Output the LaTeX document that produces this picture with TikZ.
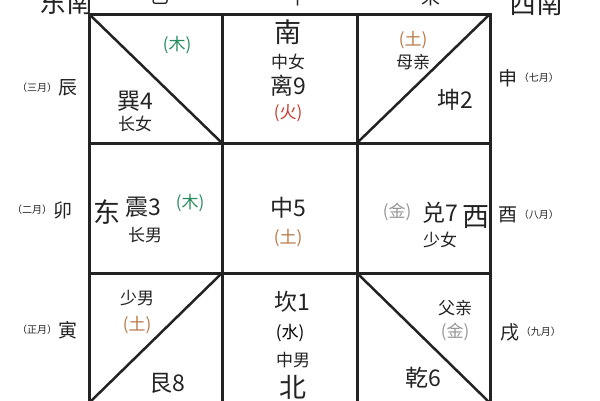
\documentclass[tikz,border=0pt]{standalone}
\usepackage{fontspec}
\newfontfamily\cjk{Noto Sans CJK SC}
\usetikzlibrary{positioning}

\definecolor{ink}{RGB}{35,35,35}
\definecolor{mu}{RGB}{40,140,95}
\definecolor{huo}{RGB}{200,60,50}
\definecolor{tu}{RGB}{185,120,70}
\definecolor{jin}{RGB}{150,150,150}

\tikzset{
	fang/.style={font=\cjk\fontsize{27}{27}\selectfont, text=ink, inner sep=0pt},
	gua/.style={font=\cjk\fontsize{23}{23}\selectfont, text=ink, inner sep=0pt},
	ren/.style={font=\cjk\fontsize{17}{17}\selectfont, text=ink, inner sep=0pt},
	xing/.style={font=\cjk\fontsize{17}{17}\selectfont, inner sep=0pt},
	zhi/.style={font=\cjk\fontsize{19}{19}\selectfont, text=ink, inner sep=0pt},
	yue/.style={font=\cjk\fontsize{10}{10}\selectfont, text=ink, inner sep=0pt},
	xian/.style={line width=3pt, ink},
	xie/.style={line width=2.5pt, ink, line cap=round},
}

\begin{document}
\begin{tikzpicture}[x=1pt, y=-1pt]

% frame %{{{2

	\useasboundingbox (0,0) rectangle (600,400);
	\fill[white] (0,0) rectangle (600,400);

% parameters %{{{2

	% ---- grid lines in pixels

	\def\xa{89}  \def\xb{222} \def\xc{357} \def\xd{490}
	\def\ya{14}  \def\yb{143} \def\yc{273} \def\yd{403}

% coordinates %{{{2

	\coordinate (A) at (\xa,\ya);
	\coordinate (B) at (\xd,\ya);
	\coordinate (C) at (\xd,\yd);
	\coordinate (D) at (\xa,\yd);

	\coordinate (TL) at (\xb,\yb);
	\coordinate (TR) at (\xc,\yb);
	\coordinate (BL) at (\xb,\yc);
	\coordinate (BR) at (\xc,\yc);

% grid %{{{2

	\draw[xian] (A) rectangle (C);
	\draw[xian] (\xb,\ya) -- (\xb,\yd);
	\draw[xian] (\xc,\ya) -- (\xc,\yd);
	\draw[xian] (\xa,\yb) -- (\xd,\yb);
	\draw[xian] (\xa,\yc) -- (\xd,\yc);

	% ---- corner diagonals

	\draw[xie] (A) -- (TL);
	\draw[xie] (B) -- (TR);
	\draw[xie] (D) -- (BL);
	\draw[xie] (C) -- (BR);

% outer labels %{{{2

	\node[fang] (dongnan) at (66,2) {东南};
	\node[zhi]  (si)      at (160,-3) {巳};
	\node[zhi]  (wu)      at (298,-3) {午};
	\node[zhi]  (wei)     at (431,-3) {未};
	\node[fang] (xinan)   at (536,3) {西南};

	% ---- earthly branches and months

	\node[zhi] (chen) at (68,88) {辰};
	\node[yue, left=1pt of chen] (chenyue) {（三月）};
	\node[zhi] (mao) at (63,210) {卯};
	\node[yue, left=1pt of mao] (maoyue) {（二月）};
	\node[zhi] (yin) at (68,330) {寅};
	\node[yue, left=1pt of yin] (yinyue) {（正月）};

	\node[zhi] (shen) at (508,78) {申};
	\node[yue, right=1pt of shen] (shenyue) {（七月）};
	\node[zhi] (you) at (508,215) {酉};
	\node[yue, right=1pt of you] (youyue) {（八月）};
	\node[zhi] (xu) at (510,332) {戌};
	\node[yue, right=1pt of xu] (xuyue) {（九月）};

% top row %{{{2

	\node[xing, text=mu] (xunmu) at (177,45) {(木)};
	\node[gua] (xun)    at (135,101) {巽4};
	\node[ren] (zhangnv) at (135,124) {长女};

	\node[fang] (nan)   at (288,32) {南};
	\node[ren] (zhongnv) at (288,62) {中女};
	\node[gua] (li)     at (288,86) {离9};
	\node[xing, text=huo] (lihuo) at (288,113) {(火)};

	\node[xing, text=tu] (kuntu) at (413,40) {(土)};
	\node[ren] (muqin)  at (413,62) {母亲};
	\node[gua] (kun)    at (455,100) {坤2};

% middle row %{{{2

	\node[fang] (dong)  at (107,212) {东};
	\node[gua] (zhen)   at (143,207) {震3};
	\node[xing, text=mu] (zhenmu) at (190,203) {(木)};
	\node[ren] (zhangnan) at (145,235) {长男};

	\node[gua] (zhong)  at (288,208) {中5};
	\node[xing, text=tu] (zhongtu) at (288,238) {(土)};

	\node[xing, text=jin] (duijin) at (397,212) {(金)};
	\node[gua] (dui)    at (440,213) {兑7};
	\node[fang] (xi)    at (476,217) {西};
	\node[ren] (shaonv) at (440,240) {少女};

% bottom row %{{{2

	\node[ren] (shaonan) at (137,298) {少男};
	\node[xing, text=tu] (gentu) at (137,325) {(土)};
	\node[gua] (gen)    at (167,383) {艮8};

	\node[gua] (kan)    at (292,302) {坎1};
	\node[xing] (kanshui) at (290,333) {(水)};
	\node[ren] (zhongnan) at (293,360) {中男};
	\node[fang] (bei)   at (293,387) {北};

	\node[ren] (fuqin)  at (455,308) {父亲};
	\node[xing, text=jin] (qianjin) at (455,332) {(金)};
	\node[gua] (qian)   at (423,378) {乾6};

% closing %{{{2

\end{tikzpicture}
\end{document}
